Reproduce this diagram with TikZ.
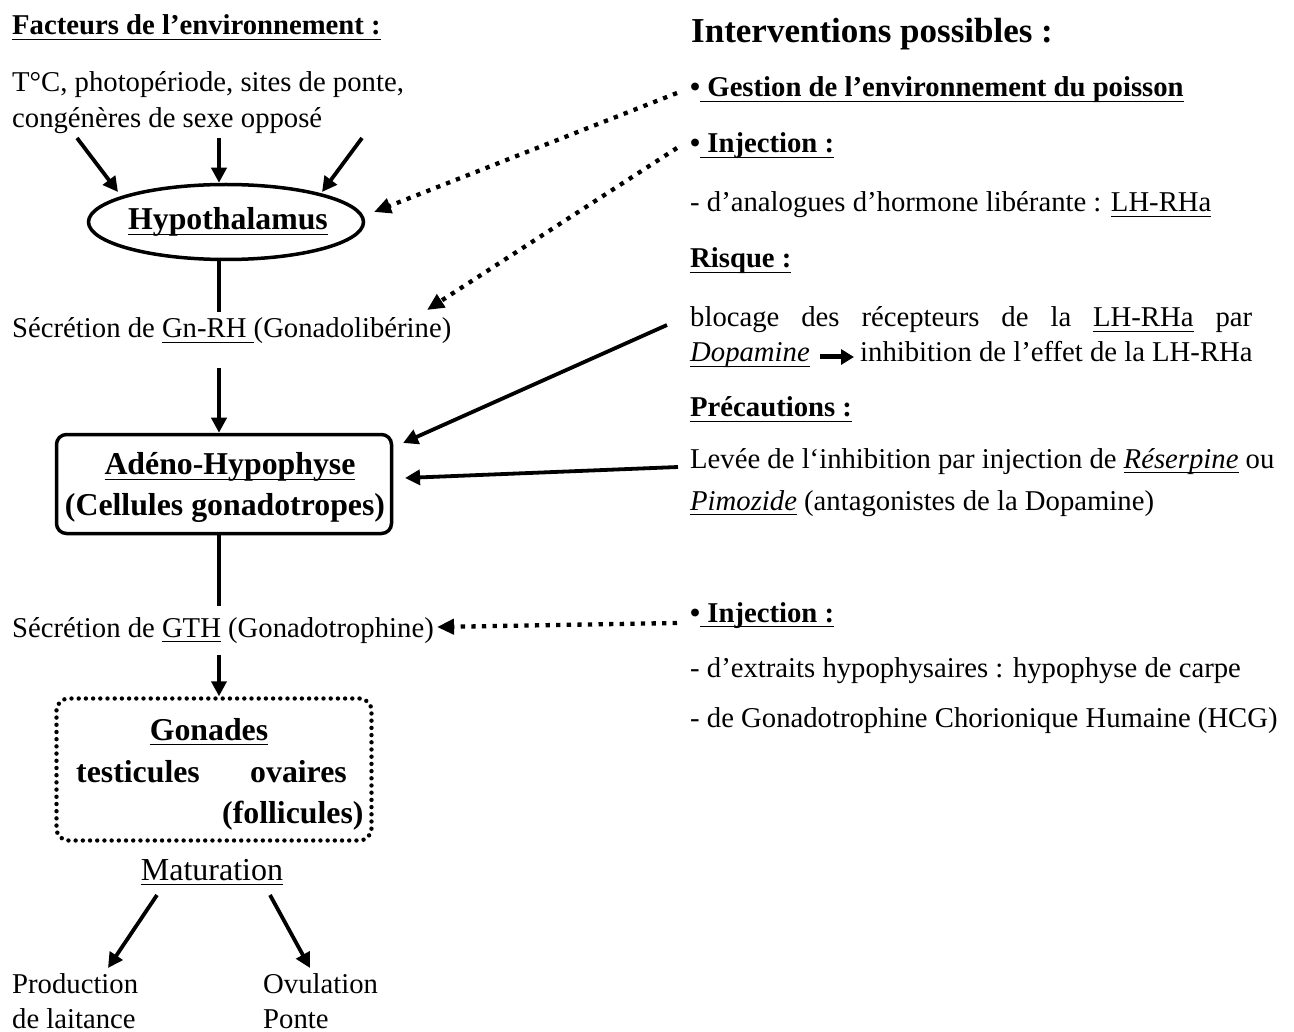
\documentclass[tikz,border=0pt]{standalone}
\usepackage{fontspec}
\setmainfont{Liberation Serif}
\usetikzlibrary{arrows.meta,shapes.geometric}
\newsavebox\ulbox
\newcommand\myul[1]{\sbox\ulbox{#1}\rlap{\rule[-5pt]{\wd\ulbox}{1.4pt}}\usebox\ulbox}
\newcommand\fr{\fontsize{28.7}{36}\selectfont}
\newcommand\fb{\fontsize{28.7}{36}\selectfont\bfseries}
\newcommand\fbig{\fontsize{31.8}{40}\selectfont\bfseries}
\tikzset{
  t/.style={anchor=base west, inner sep=0pt, font=\fr},
  tb/.style={anchor=base west, inner sep=0pt, font=\fb},
  tbig/.style={anchor=base, inner sep=0pt, font=\fbig},
  ln/.style={line width=3.8pt},
  arr/.style={line width=3.8pt, -{Triangle[length=15pt,width=15pt]}},
  dotarr/.style={line width=4.3pt, dash pattern=on 4.3pt off 6.3pt, -{Triangle[length=17pt,width=15pt]}},
}
\begin{document}
\begin{tikzpicture}[x=1pt,y=-1pt]
\useasboundingbox (0,0) rectangle (1294,1032);
% ---------- left column ----------
\node[tb] (fact) at (12,35) {\myul{Facteurs de l’environnement :}};
\node[t] (env1) at (12,92) {T°C, photopériode, sites de ponte,};
\node[t] (env2) at (12,128) {congénères de sexe opposé};

\node[draw, ellipse, line width=3.5pt, minimum width=275pt, minimum height=75pt, inner sep=0pt] (hypo) at (226,222) {};
\node[tbig] (hypt) at (228,230) {\myul{Hypothalamus}};

\coordinate (e1) at (77,138);
\coordinate (e1e) at (118,192);
\coordinate (em) at (219,138);
\coordinate (e3) at (362,138);
\coordinate (e3e) at (322,192);
\draw[arr] (e1) -- (e1e);
\draw[arr] (em) -- (em |- hypo.north);
\draw[arr] (e3) -- (e3e);

\node[t] (sec1) at (12,338) {Sécrétion de \myul{Gn-RH }(Gonadolibérine)};
\draw[ln, shorten >=6pt] (em |- hypo.south) -- (em |- sec1.north);

\node[draw, rounded corners=10pt, line width=3.5pt, minimum width=335pt, minimum height=99pt, inner sep=0pt] (adeno) at (224,484) {};
\node[tbig] (adt1) at (230,475) {\myul{Adéno-Hypophyse}};
\node[tbig] (adt2) at (225,515) {(Cellules gonadotropes)};
\coordinate (a2s) at (219,368);
\draw[arr] (a2s) -- (a2s |- adeno.north);

\node[t] (sec2) at (12,637) {Sécrétion de \myul{GTH} (Gonadotrophine)};
\draw[ln, shorten >=11pt] (em |- adeno.south) -- (em |- sec2.north);

\node[draw, rounded corners=12pt, line width=4.4pt, line cap=round, dash pattern=on 0pt off 7.2pt, minimum width=315pt, minimum height=142pt, inner sep=0pt] (gon) at (214,769.5) {};
\coordinate (a3s) at (219,655);
\draw[arr] (a3s) -- (a3s |- gon.north);
\node[tbig] (gont) at (209,740) {\myul{Gonades}};
\node[tbig, anchor=base west] (testi) at (76,782) {testicules};
\node[tbig, anchor=base west] (ovai) at (250,782) {ovaires};
\node[tbig, anchor=base west] (folli) at (222,823) {(follicules)};

\node[anchor=base, inner sep=0pt, font=\fontsize{32}{40}\selectfont] (mat) at (212,880) {\myul{Maturation}};
\coordinate (m1) at (157,895);
\coordinate (m1e) at (108,968);
\coordinate (m2) at (270,895);
\coordinate (m2e) at (310,968);
\draw[arr] (m1) -- (m1e);
\draw[arr] (m2) -- (m2e);

\node[t] (prod) at (12,993) {Production};
\node[t] (prod2) at (12,1028) {de laitance};
\node[t] (ovu) at (263,993) {Ovulation};
\node[t] (ponte) at (263,1028) {Ponte};

% ---------- right column ----------
\node[anchor=base west, inner sep=0pt, font=\fontsize{35}{42}\selectfont\bfseries] (interv) at (691,43) {Interventions possibles :};
\node[tb] (gest) at (690,97) {•\myul{ Gestion de l’environnement du poisson}};
\node[tb] (inj1) at (690,153) {•\myul{ Injection :}};
\node[t] (ana) at (690,212) {- d’analogues d’hormone libérante : \myul{LH-RHa}};
\node[tb] (risk) at (690,268) {\myul{Risque :}};
\node[t] (bloc) at (690,327) {\makebox[562pt][s]{blocage des récepteurs de la \myul{LH-RHa} par}};
\node[t] (dop) at (690,362) {\myul{\textit{Dopamine}}};
\node[t] (inh) at (860,362) {inhibition de l’effet de la LH-RHa};
\draw[line width=5pt, -{Triangle[length=13pt,width=15pt]}] ([xshift=10pt,yshift=5pt]dop.base east) -- ([xshift=-6pt,yshift=5pt]inh.base west);
\node[tb] (prec) at (690,417) {\myul{Précautions :}};
\node[t] (lev) at (690,468) {Levée de l‘inhibition par injection de \myul{\textit{Réserpine}} ou};
\node[t] (pim) at (690,510) {\myul{\textit{Pimozide}} (antagonistes de la Dopamine)};
\node[tb] (inj2) at (690,622) {•\myul{ Injection :}};
\node[t] (ext) at (690,677) {- d’extraits hypophysaires : hypophyse de carpe};
\node[t] (hcg) at (690,727) {- de Gonadotrophine Chorionique Humaine (HCG)};

% ---------- connectors from interventions ----------
\coordinate (d1s) at (677,93);
\coordinate (d1e) at (374,212);
\draw[dotarr] (d1s) -- (d1e);
\coordinate (d2s) at (677,148);
\coordinate (d2e) at (427,310);
\draw[dotarr] (d2s) -- (d2e);
\coordinate (s1s) at (667,325);
\coordinate (s1e) at (403,443);
\draw[arr] (s1s) -- (s1e);
\coordinate (s2s) at (678,467);
\coordinate (s2e) at (405,478);
\draw[arr] (s2s) -- (s2e);
\coordinate (d3s) at (677,623);
\coordinate (d3e) at (437,627);
\draw[dotarr] (d3s) -- (d3e);
\end{tikzpicture}
\end{document}
